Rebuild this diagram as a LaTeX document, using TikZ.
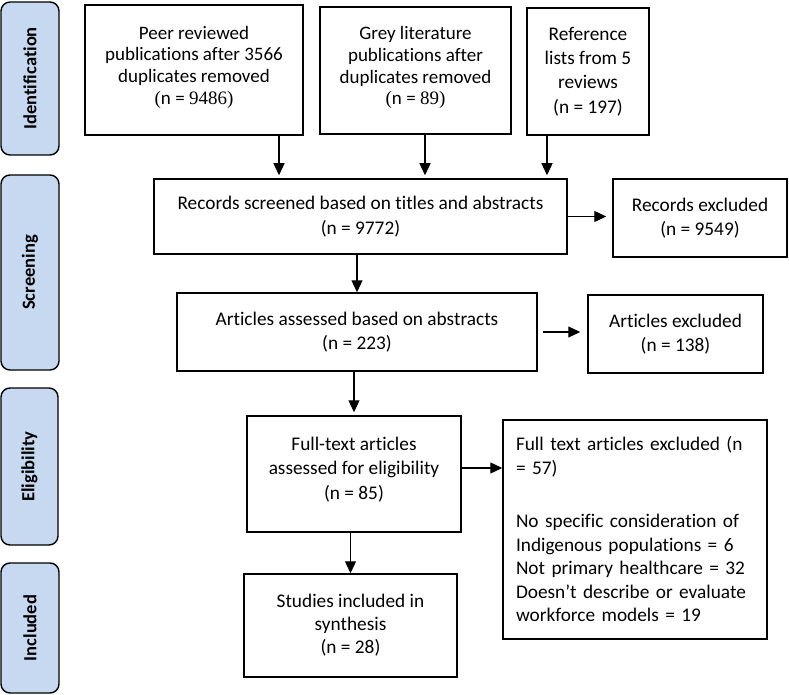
\documentclass[tikz,border=0pt]{standalone}
\usepackage{fontspec}
\setmainfont{Carlito}[Ligatures=NoCommon]
\newfontfamily\numfont{Liberation Serif}
\usetikzlibrary{arrows.meta}
\definecolor{phaseblue}{RGB}{198,217,240}

\begin{document}
\begin{tikzpicture}[x=1pt,y=-1pt,
	box/.style={draw,line width=1.5pt,align=center,inner sep=0pt,font=\fontsize{19.3}{24.5}\selectfont},
	tightbox/.style={box,font=\fontsize{19}{21.7}\selectfont},
	phase/.style={draw,line width=1.4pt,rounded corners=9pt,fill=phaseblue,rotate=90,inner sep=0pt,font=\fontsize{18.5}{20}\selectfont\bfseries},
	arr/.style={line width=1.3pt,-{Triangle[width=11pt,length=12pt]}}]
			\useasboundingbox (0,0) rectangle (789,695);
			
			\node[phase,minimum width=153,minimum height=58] (ident) at (30,78.5) {Identification};
			\node[phase,minimum width=195,minimum height=58] (screening) at (30,272.5) {Screening};
			\node[phase,minimum width=157,minimum height=57] (elig) at (29.5,466.5) {Eligibility};
			\node[phase,minimum width=130,minimum height=58] (incl) at (30,628) {Included};
			
			\node[tightbox,minimum width=218,minimum height=130] (peer) at (194,70) {Peer reviewed\\publications after 3566\\duplicates removed\\{\numfont(}n = {\numfont 9486)}\\[-12pt]};
			\node[tightbox,minimum width=191,minimum height=127] (grey) at (415.5,70.5) {Grey literature\\publications after\\duplicates removed\\{\numfont(}n = {\numfont 89)}\\[-12pt]};
			\node[box,minimum width=122,minimum height=127,font=\fontsize{19.3}{24.3}\selectfont] (reflist) at (588,71.5) {Reference\\lists from 5\\reviews\\(n = 197)};
			
			\node[box,minimum width=413,minimum height=75] (records) at (360.5,216.5) {Records screened based on titles and abstracts\\(n = 9772)};
			\node[box,minimum width=174,minimum height=78] (recexcl) at (700,218) {Records excluded\\(n = 9549)};
			
			\node[box,minimum width=360,minimum height=78] (assessed) at (357,332) {Articles assessed based on abstracts\\(n = 223)};
			\node[box,minimum width=175,minimum height=78] (artexcl) at (675.5,334) {Articles excluded\\(n = 138)};
			
			\node[box,minimum width=214,minimum height=116] (fulltext) at (354,474) {Full-text articles\\assessed for eligibility\\(n = 85)\\[-13pt]};
			\node[box,minimum width=264,minimum height=219,text width=238,align=left,font=\fontsize{19.3}{23.5}\selectfont] (ftexcl) at (635,529.5) {Full text articles excluded (n\\= 57)\\[30pt]No specific consideration of\\Indigenous populations = 6\\Not primary healthcare = 32\\Doesn’t describe or evaluate\\workforce models = 19\\[-3pt]};
			\node[box,minimum width=213,minimum height=103,font=\fontsize{19.3}{23}\selectfont] (studies) at (350.5,625.5) {Studies included in\\synthesis\\(n = 28)};
			
			\coordinate (xpeer) at (279,0);
			\coordinate (xgrey) at (425,0);
			\coordinate (xref) at (547,0);
			\coordinate (yfull) at (0,468);
			
			\draw[arr,shorten >=3pt] (peer.south -| xpeer) -- (records.north -| xpeer);
			\draw[arr,shorten >=3pt] (grey.south -| xgrey) -- (records.north -| xgrey);
			\draw[arr,shorten >=3pt] (reflist.south -| xref) -- (records.north -| xref);
			\draw[arr,shorten >=6pt] (records.east) -- (recexcl.west |- records.east);
			\draw[arr] (records.south -| assessed) -- (assessed.north);
			\draw[arr,shorten <=5pt,shorten >=7pt] (assessed.east) -- (artexcl.west |- assessed.east);
			\draw[arr,shorten >=3pt] (assessed.south -| fulltext) -- (fulltext.north);
			\draw[arr] (fulltext.east |- yfull) -- (ftexcl.west |- yfull);
			\draw[arr] (fulltext.south -| studies) -- (studies.north);
\end{tikzpicture}
\end{document}
